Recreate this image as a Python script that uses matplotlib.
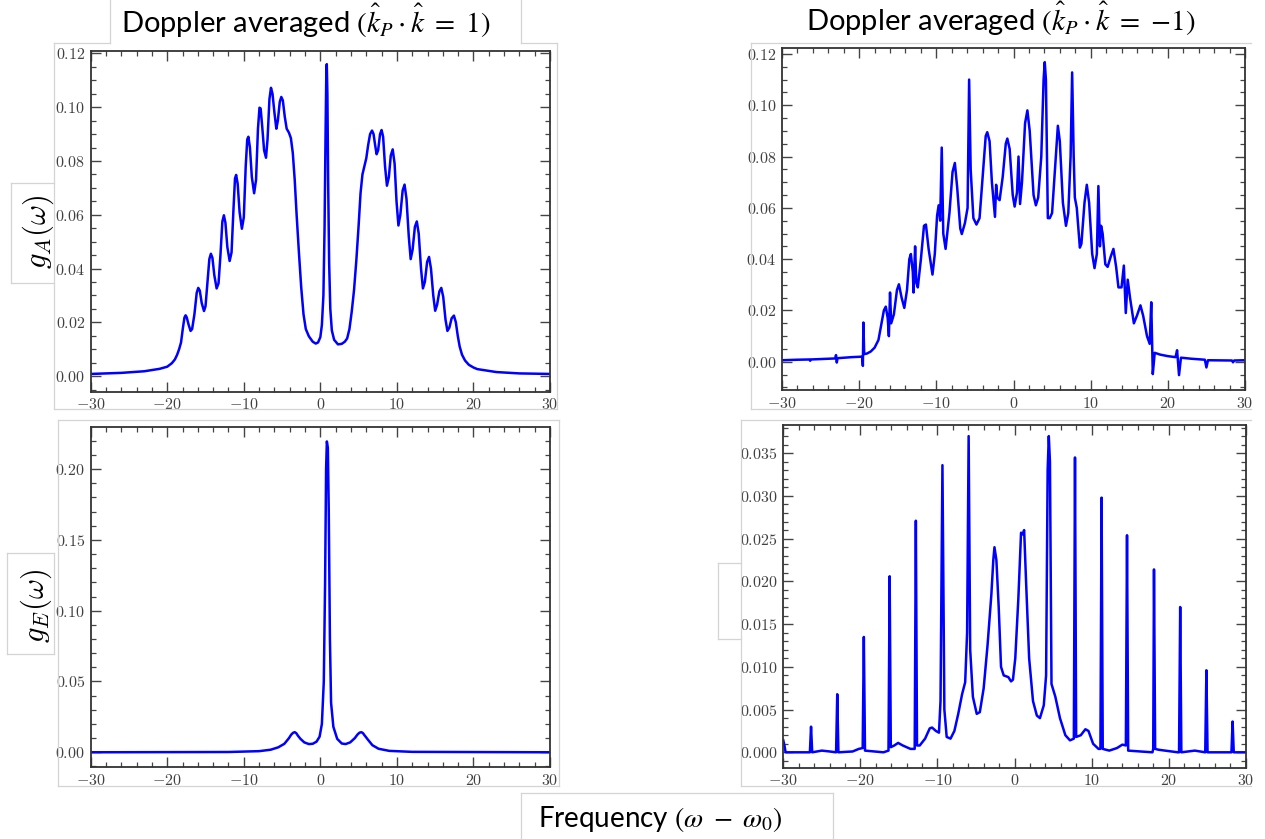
import matplotlib
matplotlib.use("Agg")
import matplotlib.pyplot as plt
from matplotlib.lines import Line2D
from matplotlib.ticker import MultipleLocator, FuncFormatter

W, H = 1265, 839

# g_A(w), k_P . k = 1 (top left)
ga_plus_x = [-30, -26, -23, -21, -20, -19.4, -19.0, -18.7, -18.45, -18.2, -17.95, -17.75, -17.6, -17.45,
             -17.2, -16.95, -16.75, -16.45, -16.15, -15.95, -15.75, -15.5, -15.2, -15.0, -14.75, -14.5,
             -14.3, -14.1, -13.85, -13.55, -13.3, -13.05, -12.8, -12.6, -12.4, -12.15, -11.85, -11.6,
             -11.35, -11.15, -11.0, -10.8, -10.55, -10.25, -10.0, -9.75, -9.55, -9.4, -9.2, -8.95, -8.65,
             -8.4, -8.15, -7.95, -7.8, -7.6, -7.35, -7.1, -6.9, -6.65, -6.45, -6.25, -6.0, -5.75, -5.55,
             -5.3, -5.1, -4.9, -4.65, -4.4, -4.1, -3.85, -3.6, -3.35, -3.1, -2.8, -2.5, -2.2, -1.9, -1.5,
             -1.0, -0.6, -0.3, 0.0, 0.2, 0.4, 0.55, 0.68, 0.78, 0.84, 0.92, 1.02, 1.15, 1.3, 1.5, 1.8,
             2.3, 2.8, 3.2, 3.5, 3.8, 4.1, 4.4, 4.7, 5.0, 5.25, 5.5, 5.75, 6.0, 6.25, 6.5, 6.75, 6.95,
             7.15, 7.35, 7.55, 7.8, 8.0, 8.2, 8.45, 8.7, 8.95, 9.2, 9.45, 9.7, 9.95, 10.2, 10.45, 10.75,
             11.0, 11.25, 11.55, 11.8, 12.05, 12.35, 12.6, 12.85, 13.15, 13.4, 13.65, 13.95, 14.2, 14.45,
             14.75, 15.0, 15.25, 15.55, 15.8, 16.05, 16.35, 16.6, 16.85, 17.15, 17.45, 17.7, 17.95, 18.2,
             18.5, 18.9, 19.4, 20.0, 20.5, 23, 26, 30]
ga_plus_y = [0.0008, 0.0012, 0.0018, 0.0027, 0.0035, 0.0048, 0.0062, 0.0080, 0.0100, 0.0125, 0.0180,
             0.0218, 0.0226, 0.0218, 0.0190, 0.0168, 0.0175, 0.0230, 0.0310, 0.0328, 0.0318, 0.0272,
             0.0242, 0.0260, 0.0350, 0.0435, 0.0455, 0.0440, 0.0375, 0.0326, 0.0345, 0.0450, 0.0575,
             0.0598, 0.0570, 0.0480, 0.0428, 0.0460, 0.0620, 0.0735, 0.0748, 0.0715, 0.0610, 0.0548,
             0.0590, 0.0780, 0.0880, 0.0890, 0.0850, 0.0740, 0.0680, 0.0730, 0.0920, 0.0998, 0.0995,
             0.0930, 0.0840, 0.0812, 0.0880, 0.1030, 0.1072, 0.1050, 0.0980, 0.0920, 0.0950, 0.1020,
             0.1038, 0.1025, 0.0965, 0.0920, 0.0905, 0.0885, 0.0830, 0.0730, 0.0600, 0.0460, 0.0330,
             0.0230, 0.0175, 0.0148, 0.0128, 0.0121, 0.0125, 0.0145, 0.0190, 0.0300, 0.0550, 0.0900,
             0.1130, 0.1160, 0.1050, 0.0720, 0.0420, 0.0250, 0.0170, 0.0135, 0.0118, 0.0120, 0.0128,
             0.0140, 0.0175, 0.0240, 0.0320, 0.0430, 0.0560, 0.0680, 0.0750, 0.0780, 0.0810, 0.0860,
             0.0900, 0.0913, 0.0900, 0.0860, 0.0825, 0.0840, 0.0900, 0.0915, 0.0890, 0.0780, 0.0708,
             0.0740, 0.0820, 0.0843, 0.0790, 0.0650, 0.0560, 0.0600, 0.0690, 0.0712, 0.0660, 0.0520,
             0.0435, 0.0470, 0.0555, 0.0575, 0.0530, 0.0400, 0.0326, 0.0350, 0.0425, 0.0443, 0.0400,
             0.0300, 0.0243, 0.0265, 0.0315, 0.0328, 0.0295, 0.0210, 0.0168, 0.0180, 0.0215, 0.0225,
             0.0200, 0.0150, 0.0110, 0.0080, 0.0058, 0.0042, 0.0032, 0.0026, 0.0015, 0.0010, 0.0008]

# g_A(w), k_P . k = -1 (top right)
ga_minus_x = [-30, -28, -26.45, -26.35, -26.25, -24, -23.1, -23.0, -22.9, -22.8, -21, -19.6, -19.52,
              -19.45, -19.35, -19.0, -18.5, -18.0, -17.5, -17.1, -16.8, -16.55, -16.3, -16.15, -16.0,
              -15.85, -15.5, -15.1, -14.85, -14.5, -14.15, -13.8, -13.5, -13.3, -13.05, -12.95, -12.75,
              -12.6, -12.4, -12.0, -11.6, -11.35, -11.0, -10.5, -10.2, -9.9, -9.7, -9.5, -9.3, -9.1,
              -8.8, -8.3, -7.9, -7.6, -7.3, -6.9, -6.7, -6.3, -5.95, -5.75, -5.55, -5.2, -4.8, -4.4,
              -4.0, -3.6, -3.4, -3.1, -2.8, -2.5, -2.4, -2.25, -2.1, -1.8, -1.4, -1.0, -0.8, -0.5,
              -0.1, 0.15, 0.45, 0.65, 0.85, 1.1, 1.5, 1.8, 2.1, 2.6, 2.9, 3.2, 3.6, 3.9, 4.05, 4.2,
              4.45, 4.7, 5.0, 5.4, 5.75, 6.0, 6.4, 6.8, 7.1, 7.4, 7.6, 7.8, 7.95, 8.2, 8.6, 8.8, 9.2,
              9.5, 9.8, 10.2, 10.5, 10.8, 11.0, 11.2, 11.35, 11.55, 11.9, 12.2, 12.6, 12.95, 13.3,
              13.6, 14.0, 14.3, 14.55, 14.8, 15.1, 15.6, 16.0, 16.45, 16.8, 17.3, 17.65, 17.85, 18.05,
              18.3, 19, 20, 21.0, 21.2, 21.45, 21.7, 23, 24.8, 25.0, 25.2, 28.3, 28.45, 28.6, 30]
ga_minus_y = [0.0006, 0.0008, 0.0009, 0.0004, 0.0009, 0.0012, 0.0013, 0.0026, -0.0003, 0.0014, 0.0018,
              0.0020, -0.0016, 0.0153, 0.0030, 0.0032, 0.0040, 0.0055, 0.0085, 0.0150, 0.0200, 0.0215,
              0.0170, 0.0100, 0.0270, 0.0150, 0.0185, 0.0280, 0.0302, 0.0250, 0.0210, 0.0280, 0.0400,
              0.0420, 0.0350, 0.0270, 0.0450, 0.0310, 0.0290, 0.0400, 0.0530, 0.0535, 0.0440, 0.0340,
              0.0420, 0.0570, 0.0610, 0.0550, 0.0835, 0.0500, 0.0440, 0.0580, 0.0740, 0.0775, 0.0680,
              0.0520, 0.0498, 0.0540, 0.0600, 0.1100, 0.0750, 0.0560, 0.0535, 0.0560, 0.0720, 0.0880,
              0.0895, 0.0860, 0.0700, 0.0600, 0.0565, 0.0690, 0.0640, 0.0630, 0.0720, 0.0850, 0.0870,
              0.0830, 0.0650, 0.0605, 0.0660, 0.0800, 0.0615, 0.0700, 0.0930, 0.0980, 0.0900, 0.0650,
              0.0610, 0.0640, 0.0800, 0.1100, 0.1168, 0.1100, 0.0560, 0.0560, 0.0580, 0.0760, 0.0920,
              0.0860, 0.0620, 0.0530, 0.0580, 0.0800, 0.1128, 0.0800, 0.0640, 0.0600, 0.0445, 0.0460,
              0.0620, 0.0690, 0.0620, 0.0420, 0.0365, 0.0420, 0.0685, 0.0450, 0.0530, 0.0500, 0.0380,
              0.0370, 0.0410, 0.0440, 0.0370, 0.0290, 0.0290, 0.0375, 0.0190, 0.0320, 0.0250, 0.0150,
              0.0180, 0.0220, 0.0180, 0.0100, 0.0070, 0.0232, -0.0048, 0.0035, 0.0028, 0.0022, 0.0018,
              0.0045, -0.0052, 0.0016, 0.0012, 0.0008, -0.0022, 0.0006, 0.0005, -0.0002, 0.0005, 0.0006]

# g_E(w), k_P . k = 1 (bottom left)
ge_plus_x = [-30, -12, -8, -6.5, -5.5, -4.7, -4.1, -3.8, -3.55, -3.35, -3.15, -2.9, -2.6, -2.1, -1.5,
             -1.0, -0.5, -0.1, 0.2, 0.45, 0.62, 0.75, 0.85, 0.98, 1.1, 1.25, 1.4, 1.7, 2.2, 2.8, 3.3,
             3.9, 4.5, 4.85, 5.1, 5.35, 5.55, 5.8, 6.2, 6.8, 7.6, 9, 12, 30]
ge_plus_y = [0.0000, 0.0002, 0.0008, 0.0018, 0.0035, 0.0060, 0.0100, 0.0125, 0.0138, 0.0142, 0.0135,
             0.0115, 0.0095, 0.0070, 0.0058, 0.0060, 0.0075, 0.0110, 0.0200, 0.0500, 0.1200, 0.2000,
             0.2195, 0.2150, 0.1700, 0.0800, 0.0350, 0.0180, 0.0095, 0.0062, 0.0058, 0.0070, 0.0100,
             0.0125, 0.0138, 0.0142, 0.0136, 0.0118, 0.0090, 0.0050, 0.0025, 0.0010, 0.0003, 0.0000]

# g_E(w), k_P . k = -1 (bottom right)
ge_minus_x = [-30.0, -29.85, -29.7, -26.55, -26.4, -26.25, -25.0, -24.0, -23.15, -23.0, -22.85, -21.0,
              -20.2, -19.7, -19.55, -19.4, -17.0, -16.35, -16.2, -16.05, -15.6, -15.1, -14.5, -13.5,
              -12.95, -12.8, -12.65, -12.3, -11.6, -11.0, -10.7, -10.2, -9.8, -9.6, -9.35, -9.1, -8.8,
              -8.3, -7.8, -7.3, -6.8, -6.4, -6.15, -5.95, -5.75, -5.4, -4.9, -4.5, -4.0, -3.5, -3.0,
              -2.75, -2.6, -2.35, -2.05, -1.75, -1.4, -0.8, -0.45, -0.2, 0.1, 0.5, 0.85, 1.05, 1.25,
              1.5, 1.9, 2.4, 2.9, 3.3, 3.8, 4.1, 4.3, 4.45, 4.6, 4.8, 5.3, 5.9, 6.6, 7.2, 7.7, 7.85,
              8.0, 8.6, 9.2, 9.6, 10.2, 10.9, 11.15, 11.3, 11.45, 12.3, 13.3, 14.0, 14.45, 14.6, 14.75,
              17.9, 18.0, 18.1, 18.25, 18.7, 21.2, 21.35, 21.5, 21.65, 23.4, 24.75, 24.9, 25.05,
              28.15, 28.3, 28.45, 30.0]
ge_minus_y = [0.0014, 0.0008, 0.0000, 0.0000, 0.0030, 0.0000, 0.0002, 0.0001, 0.0000, 0.0068, 0.0000,
              0.0001, 0.0004, 0.0005, 0.0135, 0.0002, 0.0000, 0.0002, 0.0206, 0.0006, 0.0008, 0.0011,
              0.0008, 0.0004, 0.0004, 0.0271, 0.0008, 0.0008, 0.0016, 0.0028, 0.0029, 0.0025, 0.0023,
              0.0060, 0.0336, 0.0050, 0.0018, 0.0016, 0.0025, 0.0045, 0.0068, 0.0082, 0.0140, 0.0370,
              0.0120, 0.0065, 0.0045, 0.0047, 0.0075, 0.0125, 0.0185, 0.0225, 0.0240, 0.0225, 0.0170,
              0.0100, 0.0090, 0.0088, 0.0083, 0.0085, 0.0110, 0.0180, 0.0257, 0.0255, 0.0260, 0.0200,
              0.0110, 0.0060, 0.0043, 0.0040, 0.0055, 0.0090, 0.0330, 0.0370, 0.0340, 0.0080, 0.0065,
              0.0040, 0.0020, 0.0014, 0.0016, 0.0345, 0.0018, 0.0020, 0.0027, 0.0025, 0.0010, 0.0004,
              0.0004, 0.0298, 0.0004, 0.0002, 0.0005, 0.0009, 0.0008, 0.0254, 0.0002, 0.0000, 0.0004,
              0.0214, 0.0004, 0.0003, 0.0000, 0.0000, 0.0170, 0.0000, 0.0002, 0.0000, 0.0096, 0.0000,
              0.0000, 0.0036, 0.0000, 0.0000]

titles = [r"Doppler averaged $(\hat{k}_P \cdot \hat{k}\ =\ 1)$",
          r"Doppler averaged $(\hat{k}_P \cdot \hat{k}\ =\ {-1})$"]
ylabels = [r"$g_A(\omega)$", r"$g_E(\omega)$"]
xlabel = r"Frequency $(\omega\ -\ \omega_0)$"

plt.rcParams['mathtext.fontset'] = 'cm'
plt.rcParams['axes.unicode_minus'] = True

fig = plt.figure(figsize=(W / 100, H / 100), dpi=100)
fig.patch.set_facecolor('white')

BOX = '#d4d4d4'


def fx(x):
    return x / W


def fy(y):
    return 1 - y / H


def axes_px(x0, y0, x1, y1):
    return fig.add_axes([fx(x0), fy(y1), (x1 - x0) / W, (y1 - y0) / H])


def hline(x0, x1, y):
    fig.add_artist(Line2D([fx(x0), fx(x1)], [fy(y), fy(y)], color=BOX, lw=0.9,
                          transform=fig.transFigure))


def vline(x, y0, y1):
    fig.add_artist(Line2D([fx(x), fx(x)], [fy(y0), fy(y1)], color=BOX, lw=0.9,
                          transform=fig.transFigure))


# outlines of the pasted pictures
hline(54, 110, 43); hline(521, 557, 43); hline(54, 557, 409); vline(54, 43, 409); vline(557, 43, 409)
vline(110, 0, 43); vline(521, 0, 43)
hline(751, 1251, 43); hline(751, 1251, 409); vline(751, 43, 409)
hline(58, 559, 420); hline(58, 559, 786); vline(58, 420, 786); vline(559, 420, 786)
hline(741, 1251, 420); hline(741, 1251, 786); vline(741, 420, 786)
# label boxes
hline(11, 54, 183); hline(11, 54, 283); vline(11, 183, 283)
hline(7, 54, 553); hline(7, 54, 654); vline(7, 553, 654); vline(54, 553, 654)
hline(718, 741, 563); hline(718, 741, 639); vline(718, 563, 639)
hline(521, 833, 793); vline(521, 793, 839); vline(833, 793, 839)


def style(ax, ylim, ymaj, ymin, fmt):
    ax.set_xlim(-30, 30)
    ax.set_ylim(*ylim)
    ax.xaxis.set_major_locator(MultipleLocator(10))
    ax.xaxis.set_minor_locator(MultipleLocator(2))
    ax.yaxis.set_major_locator(MultipleLocator(ymaj))
    ax.yaxis.set_minor_locator(MultipleLocator(ymin))
    ax.xaxis.set_major_formatter(FuncFormatter(lambda v, p: r"$%d$" % round(v)))
    ax.yaxis.set_major_formatter(FuncFormatter(lambda v, p: "$" + (fmt % v) + "$"))
    ax.tick_params(which='both', direction='in', top=True, right=True, color='#444444',
                   labelcolor='#404040', labelsize=11.5, pad=4)
    ax.tick_params(which='major', length=7, width=1.0)
    ax.tick_params(which='minor', length=3.5, width=0.9)
    for s in ax.spines.values():
        s.set_color('#333333')
        s.set_linewidth(1.3)


ax1 = axes_px(90.7, 50.7, 550, 391.7)
ax1.plot(ga_plus_x, ga_plus_y, color='#0000ff', lw=1.8)
style(ax1, (-0.0058, 0.121), 0.02, 0.005, "%.2f")

ax2 = axes_px(782, 48.3, 1245, 390)
ax2.plot(ga_minus_x, ga_minus_y, color='#0000ff', lw=1.8)
style(ax2, (-0.011, 0.1222), 0.02, 0.005, "%.2f")

ax3 = axes_px(90.7, 426.7, 550, 767.3)
ax3.plot(ge_plus_x, ge_plus_y, color='#0000ff', lw=1.8)
style(ax3, (-0.0106, 0.2299), 0.05, 0.01, "%.2f")

ax4 = axes_px(783.3, 425, 1245.7, 767.7)
ax4.plot(ge_minus_x, ge_minus_y, color='#0000ff', lw=1.8)
style(ax4, (-0.0018, 0.0383), 0.005, 0.001, "%.3f")

# titles and labels
fig.text(fx(306), fy(33), titles[0], ha='center', va='baseline', fontsize=21,
         family='Lato', math_fontfamily='stix')
fig.text(fx(1001), fy(31), titles[1], ha='center', va='baseline', fontsize=21,
         family='Lato', math_fontfamily='stix')
fig.text(fx(38), fy(232), ylabels[0], ha='center', va='center', rotation=90, fontsize=22)
fig.text(fx(36), fy(606), ylabels[1], ha='center', va='center', rotation=90, fontsize=22)
fig.text(fx(660), fy(827), xlabel, ha='center', va='baseline', fontsize=20,
         family='Lato', math_fontfamily='stix')

fig.savefig('out.png', dpi=100)
